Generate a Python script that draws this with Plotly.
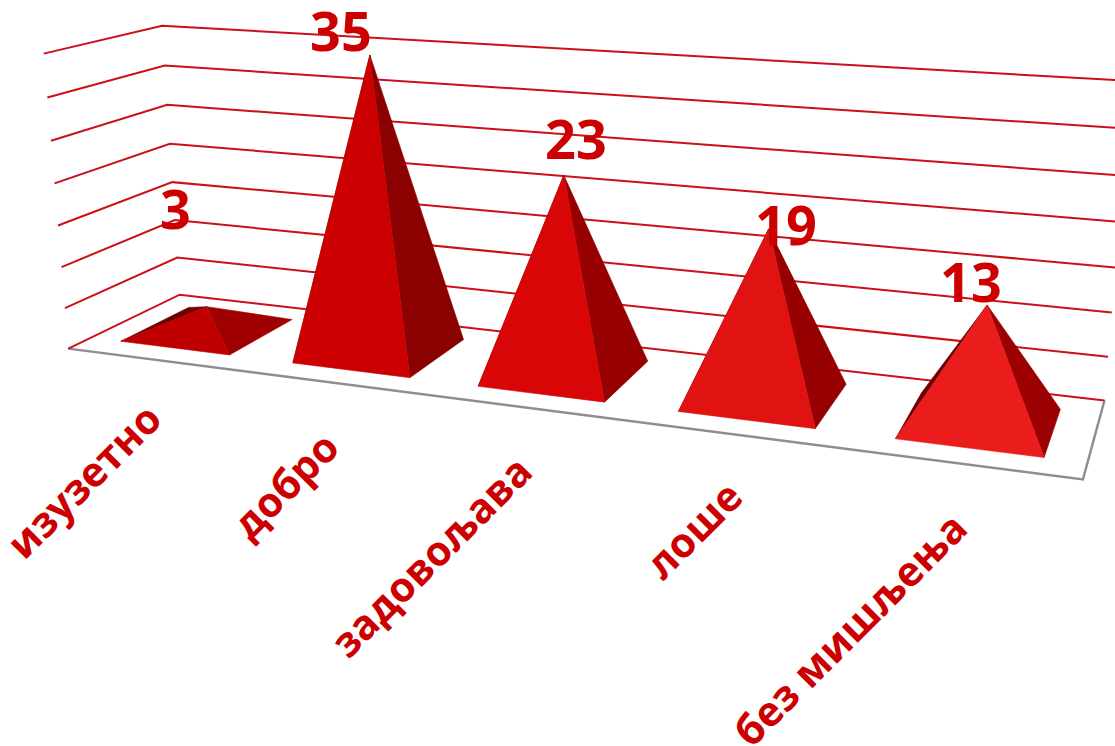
import numpy as np
import plotly.graph_objects as go

# ---- data ----
categories = ["изузетно", "добро", "задовољава", "лоше", "без мишљења"]
values = [3, 35, 23, 19, 13]
grid_levels = [0, 5, 10, 15, 20, 25, 30, 35]

# ---- styling ----
front_colors = ["#c00000", "#cc0000", "#d80606", "#e01212", "#ea1c1c"]
right_colors = ["#a00000", "#8b0000", "#960000", "#960000", "#9c0000"]
left_color = "#6e0000"
RED = "#cc0000"
GRID = "#cc1018"
FONT = "Open Sans"
HALF_W, HALF_D = 0.32, 0.31
label_xy = [(175, 208), (341, 30), (576, 138), (786, 224), (971, 281)]
cat_xy = [(83, 480), (284, 485), (430, 556), (693, 529), (849, 629)]

# camera of the 3-D chart box: (category, depth, value) -> plot coordinates
CAM = np.array([[163.5716235, 129.5439117, -0.759999, 68.3276187],
                [8.7418637, -24.0563416, -8.4966875, 348.5991489],
                [-0.0363376, 0.1013235, -0.0012824, 1.0]])


def proj(points):
    p = np.c_[np.array(points, float), np.ones(len(points))]
    h = p @ CAM.T
    return (h[:, 0] / h[:, 2]).tolist(), (h[:, 1] / h[:, 2]).tolist()


fig = go.Figure()


def poly(points, fill, name=""):
    x, y = proj(points + points[:1])
    fig.add_trace(go.Scatter(x=x, y=y, mode="lines", fill="toself", fillcolor=fill,
                             line=dict(color=fill, width=0.6), hoverinfo="skip", name=name))


def line(points, color, width):
    x, y = proj(points)
    fig.add_trace(go.Scatter(x=x, y=y, mode="lines", line=dict(color=color, width=width),
                             hoverinfo="skip"))


n = len(categories)
# floor edges
line([(0, 0, 0), (n, 0, 0), (n, 1, 0)], "#8e8e8e", 2.4)
# gridlines on the side and back walls
for g in grid_levels:
    line([(0, 0, g), (0, 1, g), (n, 1, g)], GRID, 2)

# pyramids
for i, v in enumerate(values):
    c = i + 0.5
    a = (c - HALF_W, 0.5 - HALF_D, 0)
    b = (c + HALF_W, 0.5 - HALF_D, 0)
    e = (c + HALF_W, 0.5 + HALF_D, 0)
    f = (c - HALF_W, 0.5 + HALF_D, 0)
    t = (c, 0.5, v)
    poly([f, a, t], left_color)
    poly([b, e, t], right_colors[i])
    poly([a, b, t], front_colors[i], categories[i])

# value labels
for (x, y), v in zip(label_xy, values):
    fig.add_annotation(x=x, y=y, text=str(v), showarrow=False, xanchor="center", yanchor="middle",
                       font=dict(family=FONT, size=54, color=RED, weight=700))
# category labels
for (x, y), t in zip(cat_xy, categories):
    fig.add_annotation(x=x, y=y, text=t, showarrow=False, textangle=-45, xanchor="center",
                       yanchor="middle", font=dict(family=FONT, size=41, color=RED, weight=700))

fig.update_layout(width=1115, height=746, margin=dict(l=0, r=0, t=0, b=0), showlegend=False,
                  paper_bgcolor="white", plot_bgcolor="white",
                  xaxis=dict(range=[0, 1115], visible=False, fixedrange=True),
                  yaxis=dict(range=[746, 0], visible=False, fixedrange=True))
fig.write_html("out.html", config=dict(displayModeBar=False),
               post_script="document.body.style.margin='0';document.body.style.overflow='hidden';")
